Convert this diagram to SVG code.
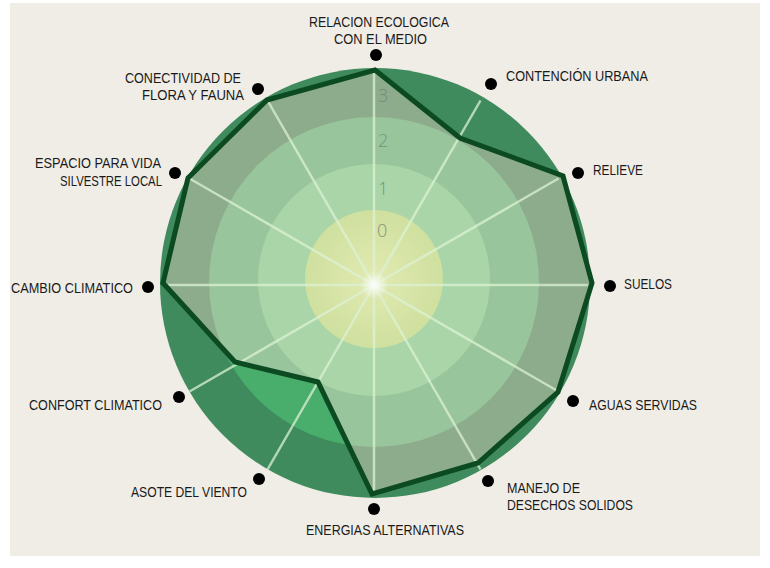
<svg xmlns="http://www.w3.org/2000/svg" width="770" height="568" viewBox="0 0 770 568">
<style>
.lbl{font-family:"Liberation Sans",Arial,sans-serif;font-size:14px;fill:#1a1a1a}
.num{font-family:"Open Sans","Liberation Sans",sans-serif;font-size:18px;font-weight:300;fill:#76857a;opacity:0.85}
.dot{fill:#000}
.spoke{stroke:#dcf2d4;stroke-width:2.5;stroke-opacity:0.75;fill:none}
.shape{fill:none;stroke:#0c4a21;stroke-width:5;stroke-linejoin:miter}
</style>
<defs>
<clipPath id="inside">
<polygon points="375,70 460,138 563,176 592,283 558,392 478,463 372,494 318,382 235,362 163,283 188,178 267,100"/>
</clipPath>
<radialGradient id="core" cx="0.5" cy="0.5" r="0.5">
<stop offset="0" stop-color="#e2eab2"/>
<stop offset="1" stop-color="#cfe09f"/>
</radialGradient>
<radialGradient id="glow" cx="0.5" cy="0.5" r="0.5">
<stop offset="0" stop-color="#ffffff" stop-opacity="0.9"/>
<stop offset="1" stop-color="#ffffff" stop-opacity="0"/>
</radialGradient>
</defs>
<rect x="0" y="0" width="770" height="568" fill="#ffffff"/>
<rect x="10" y="3" width="750" height="553" fill="#f0ede6"/>
<g id="chart">
<circle cx="375" cy="283" r="215" fill="#3f8b5d"/>
<circle cx="374" cy="282" r="165" fill="#49ad6c"/>
<circle cx="374" cy="280" r="116" fill="#5dbb7c"/>
<g clip-path="url(#inside)">
<circle cx="375" cy="283" r="216" fill="#8dac8c"/>
<circle cx="374" cy="282" r="165" fill="#98c59b"/>
<circle cx="374" cy="280" r="116" fill="#a9d5a8"/>
<circle cx="374" cy="279" r="69" fill="url(#core)"/>
</g>
<text class="num" x="378" y="102">3</text>
<text class="num" x="378" y="147">2</text>
<text class="num" x="378" y="195">1</text>
<text class="num" x="377" y="237">0</text>
</g>
<g id="connectors">
<line class="spoke" x1="374" y1="285" x2="374" y2="72"/>
<line class="spoke" x1="374" y1="285" x2="480.5" y2="100.5"/>
<line class="spoke" x1="374" y1="285" x2="558.5" y2="178.5"/>
<line class="spoke" x1="374" y1="285" x2="588" y2="285"/>
<line class="spoke" x1="374" y1="285" x2="558.5" y2="391.5"/>
<line class="spoke" x1="374" y1="285" x2="480.5" y2="469.5"/>
<line class="spoke" x1="374" y1="285" x2="374" y2="494"/>
<line class="spoke" x1="374" y1="285" x2="267.5" y2="469.5"/>
<line class="spoke" x1="374" y1="285" x2="189.5" y2="391.5"/>
<line class="spoke" x1="374" y1="285" x2="163" y2="285"/>
<line class="spoke" x1="374" y1="285" x2="189.5" y2="178.5"/>
<line class="spoke" x1="374" y1="285" x2="267.5" y2="100.5"/>
<circle cx="374" cy="285" r="14" fill="url(#glow)"/>
<polygon class="shape" points="375,70 460,138 563,176 592,283 558,392 478,463 372,494 318,382 235,362 163,283 188,178 267,100"/>
</g>
<g id="relacion">
<circle class="dot" cx="376" cy="55" r="6"/>
<text class="lbl" x="309" y="27" textLength="140" lengthAdjust="spacingAndGlyphs">RELACION ECOLOGICA</text>
<text class="lbl" x="334" y="44" textLength="93" lengthAdjust="spacingAndGlyphs">CON EL MEDIO</text>
</g>
<g id="contencion">
<circle class="dot" cx="491" cy="84" r="6"/>
<text class="lbl" x="506" y="81" textLength="142" lengthAdjust="spacingAndGlyphs">CONTENCIÓN URBANA</text>
</g>
<g id="relieve">
<circle class="dot" cx="578" cy="173" r="6"/>
<text class="lbl" x="593" y="175" textLength="50" lengthAdjust="spacingAndGlyphs">RELIEVE</text>
</g>
<g id="suelos">
<circle class="dot" cx="610" cy="286" r="6"/>
<text class="lbl" x="624" y="289" textLength="48" lengthAdjust="spacingAndGlyphs">SUELOS</text>
</g>
<g id="aguas">
<circle class="dot" cx="573" cy="401" r="6"/>
<text class="lbl" x="589" y="410" textLength="108" lengthAdjust="spacingAndGlyphs">AGUAS SERVIDAS</text>
</g>
<g id="manejo">
<circle class="dot" cx="488" cy="481" r="6"/>
<text class="lbl" x="507" y="493" textLength="73" lengthAdjust="spacingAndGlyphs">MANEJO DE</text>
<text class="lbl" x="507" y="510" textLength="126" lengthAdjust="spacingAndGlyphs">DESECHOS SOLIDOS</text>
</g>
<g id="energias">
<circle class="dot" cx="374" cy="509" r="6"/>
<text class="lbl" x="306" y="535" textLength="158" lengthAdjust="spacingAndGlyphs">ENERGIAS ALTERNATIVAS</text>
</g>
<g id="asote">
<circle class="dot" cx="259" cy="479" r="6"/>
<text class="lbl" x="131" y="497" textLength="116" lengthAdjust="spacingAndGlyphs">ASOTE DEL VIENTO</text>
</g>
<g id="confort">
<circle class="dot" cx="179" cy="397" r="6"/>
<text class="lbl" x="29" y="410" textLength="133" lengthAdjust="spacingAndGlyphs">CONFORT CLIMATICO</text>
</g>
<g id="cambio">
<circle class="dot" cx="148" cy="287" r="6"/>
<text class="lbl" x="11" y="293" textLength="122" lengthAdjust="spacingAndGlyphs">CAMBIO CLIMATICO</text>
</g>
<g id="espacio">
<circle class="dot" cx="175" cy="173" r="6"/>
<text class="lbl" x="35" y="168" textLength="126" lengthAdjust="spacingAndGlyphs">ESPACIO PARA VIDA</text>
<text class="lbl" x="60" y="186" textLength="102" lengthAdjust="spacingAndGlyphs">SILVESTRE LOCAL</text>
</g>
<g id="conectividad">
<circle class="dot" cx="258" cy="89" r="6"/>
<text class="lbl" x="125" y="83" textLength="116" lengthAdjust="spacingAndGlyphs">CONECTIVIDAD DE</text>
<text class="lbl" x="142" y="100" textLength="102" lengthAdjust="spacingAndGlyphs">FLORA Y FAUNA</text>
</g>
</svg>
